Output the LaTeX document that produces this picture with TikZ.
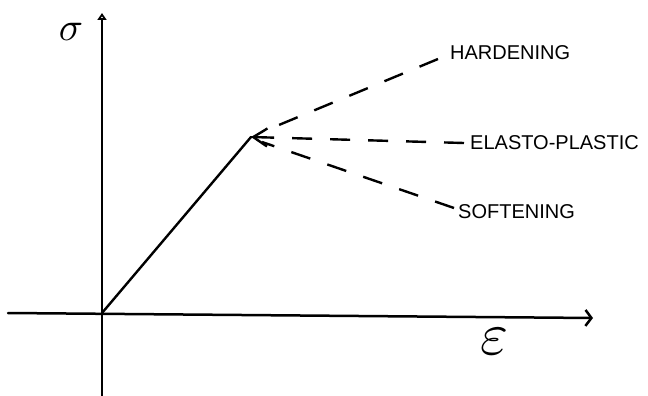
\documentclass[tikz,border=0pt]{standalone}
\usepackage{fontspec}
\setmainfont{Liberation Sans}
\usetikzlibrary{arrows.meta}
\begin{document}
\begin{tikzpicture}[x=1pt,y=-1pt,
  axis/.style={line width=2.5pt, line cap=round},
  curve/.style={line width=2.4pt, line cap=round},
  dashcurve/.style={line width=2.4pt, dash pattern=on 20pt off 18pt},
  lbl/.style={anchor=west, inner sep=0pt, font=\fontsize{20}{20}\selectfont}]
\useasboundingbox (0,0) rectangle (648,396);
% axes
\coordinate (ytop) at (102,13);
\coordinate (ybot) at (102,396);
\coordinate (xl) at (8,313);
\coordinate (xr) at (593,318);
\coordinate (O) at (102,313);
\coordinate (Y) at (251,137);
\draw[axis, -{Triangle[open,length=7pt,width=9pt]}] (ybot) -- (ytop);
\draw[axis, -{Straight Barb[length=6pt,width=16pt]}] (xl) -- (xr);
% labels
\node (sig) at (71,32) {\scalebox{4}{$\sigma$}};
\node (eps) at (494,342) {\scalebox{6}{$\varepsilon$}};
\node[lbl] (hard) at (450,53) {HARDENING};
\node[lbl] (elas) at (470,143) {ELASTO-PLASTIC};
\node[lbl] (soft) at (458,212) {SOFTENING};
% elastic branch
\draw[curve] (O) -- (Y);
% branches
\coordinate (hE) at (438,59);
\coordinate (eE) at (464,143);
\coordinate (sE) at (454,208);
\coordinate (hS) at (262,132);
\coordinate (sS) at (262,142);
\draw[dashcurve] (hE) -- (hS);
\draw[dashcurve, -{Straight Barb[length=14pt,width=18pt]}] (eE) -- (Y);
\draw[dashcurve] (sE) -- (sS);
\end{tikzpicture}
\end{document}
